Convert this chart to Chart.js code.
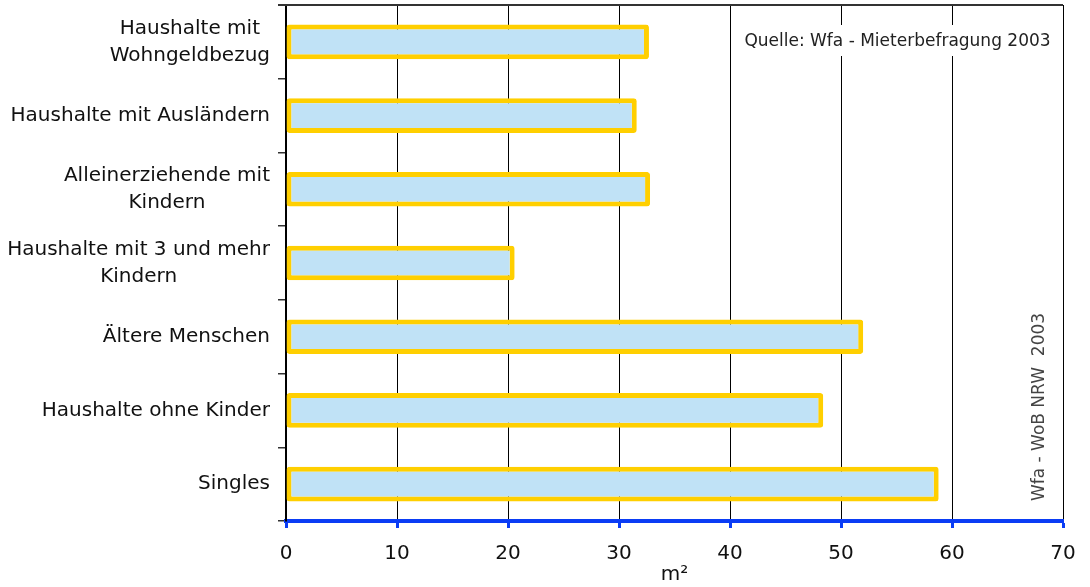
<!DOCTYPE html>
<html>
<head>
<meta charset="utf-8">
<script src="https://cdn.jsdelivr.net/npm/chart.js@4.4.0/dist/chart.umd.min.js"></script>
<style>
  body { margin: 0; background: #fff; }
  #wrap { width: 1090px; height: 587px; }
</style>
</head>
<body>
<div id="wrap"><canvas id="chart"></canvas></div>
<script>
const kategorien = [
    ["Haushalte mit", "Wohngeldbezug"],
    ["Haushalte mit Ausländern"],
    ["Alleinerziehende mit", "Kindern"],
    ["Haushalte mit 3 und mehr", "Kindern"],
    ["Ältere Menschen"],
    ["Haushalte ohne Kinder"],
    ["Singles"]
];
const wohnflaeche = [32.7, 31.6, 32.8, 20.6, 52.0, 48.4, 58.8];
const xTicks = [0, 10, 20, 30, 40, 50, 60, 70];
const quelle = "Quelle: Wfa - Mieterbefragung 2003";
const vermerk = "Wfa - WoB NRW  2003";
const achsenTitel = "m²";

const schrift = "'DejaVu Sans', sans-serif";

// eigene Beschriftung der Kategorien (zentrierte Zeilen) + Rahmen + Notizen
const extras = {
    id: "extras",
    afterDraw(chart) {
        const ctx = chart.ctx;
        const area = chart.chartArea;
        const y = chart.scales.y;
        const x = chart.scales.x;

        ctx.save();
        // oberer Rahmen
        ctx.strokeStyle = "#333";
        ctx.lineWidth = 2;
        ctx.beginPath();
        ctx.moveTo(area.left - 8, area.top);
        ctx.lineTo(area.right, area.top);
        ctx.stroke();

        // Kategorien
        ctx.font = "20px " + schrift;
        ctx.fillStyle = "#111";
        ctx.textAlign = "center";
        ctx.textBaseline = "middle";
        kategorien.forEach((zeilen, i) => {
            const mitte = y.getPixelForValue(i);
            const breite = Math.max(...zeilen.map(z => ctx.measureText(z).width));
            const cx = area.left - 16 - breite / 2;
            const lh = 27;
            zeilen.forEach((z, j) => {
                ctx.fillText(z, cx, mitte + (j - (zeilen.length - 1) / 2) * lh);
            });
        });

        // Quelle mit weißem Kasten
        const kx0 = x.getPixelForValue(40) + 2;
        ctx.fillStyle = "#fff";
        ctx.fillRect(kx0, 25, area.right - kx0 - 1, 31);
        ctx.font = "17px " + schrift;
        ctx.fillStyle = "#222";
        ctx.fillText(quelle, (kx0 + area.right) / 2, 42);

        // senkrechter Vermerk
        ctx.translate(1040, 407);
        ctx.rotate(-Math.PI / 2);
        ctx.fillStyle = "#444";
        ctx.font = "17px " + schrift;
        ctx.fillText(vermerk, 0, 0);
        ctx.restore();
    }
};

new Chart(document.getElementById("chart"), {
    type: "bar",
    data: {
        labels: kategorien.map(k => k.join(" ")),
        datasets: [{
            data: wohnflaeche,
            backgroundColor: "#c0e2f6",
            borderColor: "#ffcf00",
            borderWidth: 5,
            borderRadius: 3,
            borderSkipped: false,
            barPercentage: 0.47,
            categoryPercentage: 1
        }]
    },
    options: {
        indexAxis: "y",
        responsive: true,
        maintainAspectRatio: false,
        animation: false,
        layout: { padding: { left: 0, right: 27, top: 5, bottom: 0 } },
        plugins: { legend: { display: false }, tooltip: { enabled: false } },
        scales: {
            x: {
                min: 0,
                max: 70,
                afterBuildTicks: s => { s.ticks = xTicks.map(v => ({ value: v })); },
                afterFit: s => { s.height = 66; },
                border: { color: "#0a3cf5", width: 4 },
                grid: { color: "#000", lineWidth: 1, tickColor: "#0a3cf5", tickLength: 7, tickWidth: 3 },
                ticks: { color: "#111", font: { family: schrift, size: 20 }, padding: 14 },
                title: { display: true, text: achsenTitel, color: "#111", font: { family: schrift, size: 20 }, padding: { top: 0, bottom: 0 } }
            },
            y: {
                afterFit: s => { s.width = 286; },
                border: { color: "#000", width: 2 },
                grid: { drawOnChartArea: false, color: "#333", tickLength: 8, lineWidth: 1.5 },
                ticks: { display: false }
            }
        }
    },
    plugins: [extras]
});
</script>
</body>
</html>
